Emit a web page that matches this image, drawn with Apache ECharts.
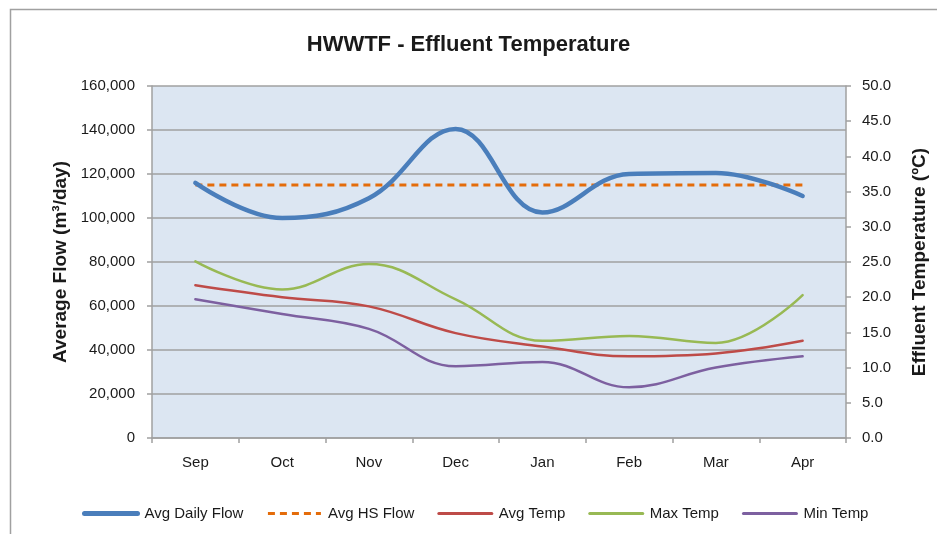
<!DOCTYPE html>
<html>
<head>
<meta charset="utf-8">
<script src="https://cdn.jsdelivr.net/npm/echarts@6/dist/echarts.min.js"></script>
<style>
  html, body { margin: 0; padding: 0; background: #ffffff; }
  #chart { width: 937px; height: 534px; }
</style>
</head>
<body>
<div id="chart"></div>
<script>
// Monthly flow and effluent temperature, Sep to Apr
const months = ['Sep', 'Oct', 'Nov', 'Dec', 'Jan', 'Feb', 'Mar', 'Apr'];
const avgDailyFlow = [116000, 100000, 109000, 140500, 102500, 120000, 120500, 110000];
const avgHsFlow = [115000, 115000, 115000, 115000, 115000, 115000, 115000, 115000];
const avgTemp = [21.7, 20.0, 18.7, 14.9, 13.0, 11.6, 12.0, 13.8];
const maxTemp = [25.1, 21.1, 24.7, 19.7, 13.8, 14.5, 13.5, 20.3];
const minTemp = [19.7, 17.6, 15.5, 10.2, 10.8, 7.2, 10.0, 11.6];

const flowTicks = { min: 0, max: 160000, interval: 20000 };
const tempTicks = { min: 0, max: 50, interval: 5 };

const FONT = '"Liberation Sans", "DejaVu Sans", sans-serif';
const axisGray = '#A0A0A0';
const textColor = '#1a1a1a';

const chart = echarts.init(document.getElementById('chart'), null, { renderer: 'canvas' });

const smoothness = 0.4;

// legend entries: line only, no marker
const legendEntry = (name, color, width, type) => ({
  name,
  itemStyle: { opacity: 0 },
  lineStyle: { color, width, type: type || 'solid' }
});

chart.setOption({
  backgroundColor: '#ffffff',
  animation: false,
  title: {
    text: 'HWWTF - Effluent Temperature',
    left: 'center',
    top: 29,
    textStyle: { fontFamily: FONT, fontSize: 22, fontWeight: 'bold', color: textColor }
  },
  graphic: [{
    type: 'rect',
    shape: { x: 10.5, y: 9.5, width: 1000, height: 1000 },
    style: { fill: 'none', stroke: axisGray, lineWidth: 1.5 },
    silent: true,
    z: -1
  }],
  legend: {
    left: 77,
    top: 501,
    itemWidth: 53,
    itemHeight: 14,
    itemGap: 23,
    textStyle: { fontFamily: FONT, fontSize: 15, color: textColor, padding: [0, 0, 0, 2] },
    data: [
      legendEntry('Avg Daily Flow', '#4A7EBB', 5),
      legendEntry('Avg HS Flow', '#E46C0A', 3, [7, 5]),
      legendEntry('Avg Temp', '#BE4B48', 3),
      legendEntry('Max Temp', '#98B954', 3),
      legendEntry('Min Temp', '#7D60A0', 3)
    ]
  },
  grid: {
    left: 152,
    right: 90,
    top: 86,
    bottom: 96,
    show: true,
    backgroundColor: '#DCE6F2',
    borderWidth: 0
  },
  xAxis: {
    type: 'category',
    data: months,
    boundaryGap: true,
    axisLine: { show: true, lineStyle: { color: axisGray, width: 1.5 } },
    axisTick: { show: true, length: 5, lineStyle: { color: axisGray, width: 1.5 } },
    axisLabel: { fontFamily: FONT, fontSize: 15, color: textColor, margin: 17 },
    splitLine: { show: false }
  },
  yAxis: [{
    type: 'value',
    min: flowTicks.min,
    max: flowTicks.max,
    interval: flowTicks.interval,
    position: 'left',
    name: 'Average Flow (m³/day)',
    nameLocation: 'middle',
    nameRotate: 90,
    nameGap: 82,
    nameTextStyle: { fontFamily: FONT, fontSize: 19, fontWeight: 'bold', color: textColor },
    axisLine: { show: true, lineStyle: { color: axisGray, width: 1.5 } },
    axisTick: { show: true, length: 5, lineStyle: { color: axisGray, width: 1.5 } },
    axisLabel: {
      fontFamily: FONT, fontSize: 15, color: textColor, margin: 17,
      formatter: v => v.toLocaleString('en-US')
    },
    splitLine: { show: true, lineStyle: { color: axisGray, width: 1.5 } }
  }, {
    type: 'value',
    min: tempTicks.min,
    max: tempTicks.max,
    interval: tempTicks.interval,
    position: 'right',
    name: 'Effluent Temperature (ºC)',
    nameLocation: 'middle',
    nameRotate: 90,
    nameGap: 64,
    nameTextStyle: { fontFamily: FONT, fontSize: 19, fontWeight: 'bold', color: textColor },
    axisLine: { show: true, lineStyle: { color: axisGray, width: 1.5 } },
    axisTick: { show: true, length: 5, lineStyle: { color: axisGray, width: 1.5 } },
    axisLabel: {
      fontFamily: FONT, fontSize: 15, color: textColor, margin: 16,
      formatter: v => v.toFixed(1)
    },
    splitLine: { show: false }
  }],
  series: [{
    name: 'Avg Daily Flow',
    type: 'line',
    yAxisIndex: 0,
    data: avgDailyFlow,
    smooth: smoothness,
    symbol: 'none',
    z: 5,
    color: '#4A7EBB',
    lineStyle: { color: '#4A7EBB', width: 4.5, cap: 'round' }
  }, {
    name: 'Avg HS Flow',
    type: 'line',
    yAxisIndex: 0,
    data: avgHsFlow,
    symbol: 'none',
    z: 4,
    color: '#E46C0A',
    lineStyle: { color: '#E46C0A', width: 3, type: [7, 5] }
  }, {
    name: 'Avg Temp',
    type: 'line',
    yAxisIndex: 1,
    data: avgTemp,
    smooth: smoothness,
    symbol: 'none',
    color: '#BE4B48',
    lineStyle: { color: '#BE4B48', width: 2.5, cap: 'round' }
  }, {
    name: 'Max Temp',
    type: 'line',
    yAxisIndex: 1,
    data: maxTemp,
    smooth: smoothness,
    symbol: 'none',
    color: '#98B954',
    lineStyle: { color: '#98B954', width: 2.5, cap: 'round' }
  }, {
    name: 'Min Temp',
    type: 'line',
    yAxisIndex: 1,
    data: minTemp,
    smooth: smoothness,
    symbol: 'none',
    color: '#7D60A0',
    lineStyle: { color: '#7D60A0', width: 2.5, cap: 'round' }
  }]
});
</script>
</body>
</html>
